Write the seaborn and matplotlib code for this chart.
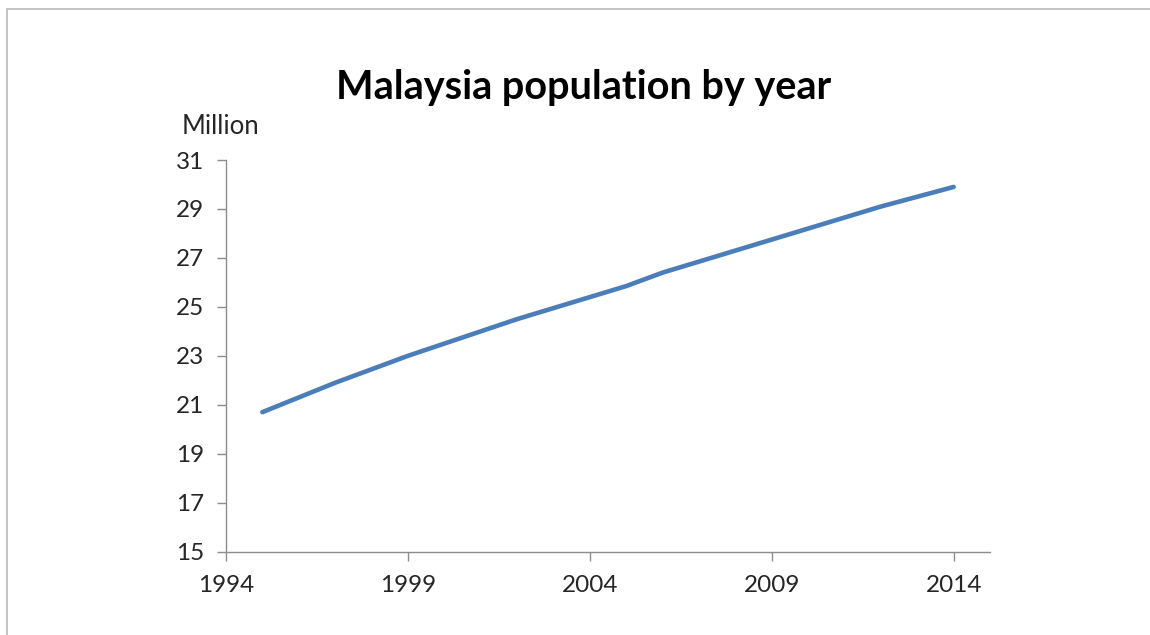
import matplotlib
matplotlib.use("Agg")
import matplotlib.pyplot as plt
from matplotlib.lines import Line2D
import seaborn as sns
import pandas as pd

years = [1995, 1996, 1997, 1998, 1999, 2000, 2001, 2002, 2003, 2004,
         2005, 2006, 2007, 2008, 2009, 2010, 2011, 2012, 2013, 2014]
population = [20.7, 21.3, 21.9, 22.45, 23.0, 23.5, 24.0, 24.5, 24.95, 25.4,
              25.85, 26.4, 26.85, 27.3, 27.75, 28.2, 28.65, 29.1, 29.5, 29.9]
x_ticks = [1994, 1999, 2004, 2009, 2014]
y_ticks = [15, 17, 19, 21, 23, 25, 27, 29, 31]
title = "Malaysia population by year"
y_unit = "Million"

sns.set_style("ticks")
plt.rcParams['font.family'] = ['Lato', 'DejaVu Sans']

df = pd.DataFrame({"year": years, "population": population})

fig = plt.figure(figsize=(11.5, 6.35), dpi=100)
ax = fig.add_axes([0.1965, 0.1312, 0.8609 - 0.1965, 0.748 - 0.1312])

sns.lineplot(data=df, x="year", y="population", ax=ax, color="#4A7EBB",
             linewidth=3.3, solid_capstyle="round")

ax.set_xlim(1994, 2015)
ax.set_ylim(15, 31)
ax.set_xticks(x_ticks)
ax.set_yticks(y_ticks)
ax.set_xticklabels([str(v) for v in x_ticks])
ax.set_yticklabels([str(v) for v in y_ticks])
ax.set_xlabel("")
ax.set_ylabel("")

axis_col = "#8c8c8c"
for side in ["top", "right"]:
    ax.spines[side].set_visible(False)
for side in ["left", "bottom"]:
    ax.spines[side].set_color(axis_col)
    ax.spines[side].set_linewidth(1.0)
ax.tick_params(axis="both", colors=axis_col, length=6.5, width=1.0,
               labelcolor="#262626", labelsize=17.5)
ax.tick_params(axis="x", pad=10)
ax.tick_params(axis="y", pad=9)

fig.text(0.5078, 0.862, title, ha="center", va="center",
         fontsize=28.5, fontweight="bold", color="#000000")
fig.text(0.158, 0.80, y_unit, ha="left", va="center",
         fontsize=18.5, color="#262626")

border = "#bfbfbf"
fig.add_artist(Line2D([0.006, 1.0], [1 - 9 / 635, 1 - 9 / 635],
                      transform=fig.transFigure, color=border, lw=1.3))
fig.add_artist(Line2D([7 / 1150, 7 / 1150], [0.0, 1 - 9 / 635],
                      transform=fig.transFigure, color=border, lw=1.3))

fig.savefig("out.png", dpi=100, facecolor="white")
